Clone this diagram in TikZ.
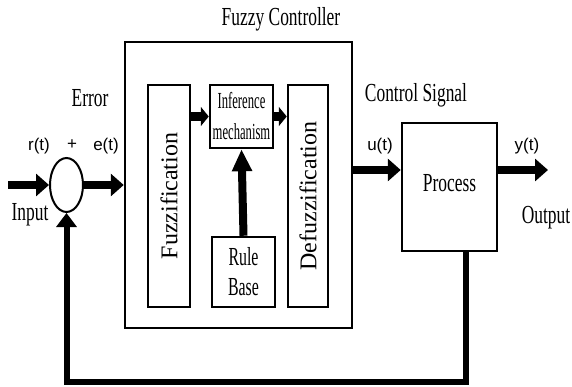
\documentclass[tikz,border=0pt]{standalone}
\usepackage{fontspec}
\setmainfont{Liberation Serif}
\setsansfont{Liberation Sans}
\usepackage{graphicx}
\usetikzlibrary{arrows.meta,shapes.geometric}

\tikzset{
  blk/.style={draw, line width=2.5pt, inner sep=0pt},
  lbl/.style={font=\fontsize{26}{30}\selectfont, anchor=base, inner sep=0pt},
  sgn/.style={font=\sffamily\fontsize{17}{17}\selectfont, inner sep=0pt},
  sig/.style={line width=8pt, -{Triangle[length=13pt,width=22pt]}},
  sigs/.style={line width=9pt, -{Triangle[length=8pt,width=19pt]}},
  rulearr/.style={line width=8pt, -{Triangle[length=22pt,width=19pt]}},
  fb/.style={line width=6pt, -{Triangle[length=14pt,width=20pt]}}
}
\newcommand{\sq}[2][0.67]{\scalebox{#1}[1]{#2}}

\begin{document}
\begin{tikzpicture}[x=1pt,y=-1pt]
  \useasboundingbox (0,0) rectangle (572,387);

  % controller
  \node[blk, minimum width=227pt, minimum height=286pt] (ctrl) at (238.5,185) {};
  \node[lbl] (ctrltxt) at (281,26) {\sq{Fuzzy Controller}};

  \node[blk, minimum width=42pt, minimum height=222pt, font=\fontsize{24}{24}\selectfont] (fuzz) at (169,196) {\rotatebox{90}{Fuzzification}};
  \node[blk, minimum width=63pt, minimum height=63pt, font=\fontsize{23}{31}\selectfont, align=center] (infer) at (241.5,116.5) {\sq[0.55]{Inference}\\\sq[0.55]{mechanism}};
  \node[blk, minimum width=40pt, minimum height=222pt, font=\fontsize{24}{24}\selectfont] (defuzz) at (308,196) {\rotatebox{90}{Defuzzification}};
  \node[blk, minimum width=63pt, minimum height=70pt, font=\fontsize{26}{30}\selectfont, align=center] (rule) at (243.5,272) {\sq[0.61]{Rule}\\\sq[0.61]{Base}};

  % plant
  \node[blk, minimum width=95pt, minimum height=128pt, font=\fontsize{26}{30}\selectfont, text depth=8pt] (proc) at (449.5,187) {\sq{Process}};

  %summing point
  \node[draw, ellipse, line width=2pt, minimum width=33pt, minimum height=54pt, inner sep=0pt] (sum) at (66.5,185) {};

  % signals
  \coordinate (in) at (8,185);
  \draw[sig] (in) -- (sum.west);
  \draw[sig] (sum.east) -- (ctrl.west);
  \draw[sigs] (fuzz.east |- infer.west) -- (infer.west);
  \draw[sigs] (infer.east) -- (defuzz.west |- infer.east);
  \draw[rulearr] (rule.north) -- (infer.south);
  \coordinate (uin) at ([yshift=17pt]proc.west);
  \draw[sig] (ctrl.east |- uin) -- (uin);
  \coordinate (yout) at (548,170);
  \draw[sig] ([yshift=17pt]proc.east) -- (yout);

  % feedback
  \coordinate (fbb) at (0,382);
  \draw[fb] ([xshift=16.5pt]proc.south) |- (sum.south |- fbb) -- (sum.south);

  % labels
  \node[lbl] (err) at (90,107) {\sq{Error}};
  \node[lbl] (input) at (30,220) {\sq{Input}};
  \node[lbl] (csig) at (416,102) {\sq{Control Signal}};
  \node[lbl] (output) at (546,223) {\sq{Output}};
  \node[sgn] (rt) at (39,146) {r(t)};
  \node[sgn] (plus) at (72,145) {+};
  \node[sgn] (et) at (106,146) {e(t)};
  \node[sgn] (ut) at (380,146) {u(t)};
  \node[sgn] (yt) at (527,146) {y(t)};

\end{tikzpicture}
\end{document}
